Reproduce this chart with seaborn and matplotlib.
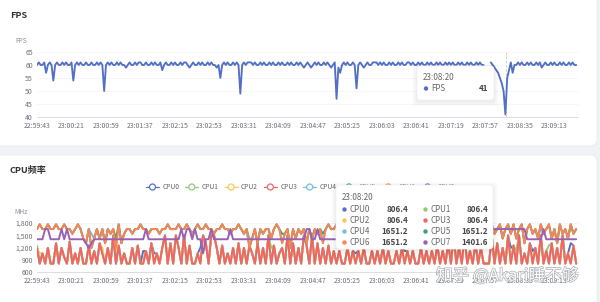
import numpy as np
import pandas as pd
import matplotlib
matplotlib.use("Agg")
import matplotlib.pyplot as plt
import seaborn as sns
from matplotlib.patches import FancyBboxPatch, Circle
import matplotlib.patheffects as pe

# ---------------- data ----------------
tick_labels = ["22:59:43", "23:00:21", "23:00:59", "23:01:37", "23:02:15", "23:02:53",
               "23:03:31", "23:04:09", "23:04:47", "23:05:25", "23:06:03", "23:06:41",
               "23:07:19", "23:07:57", "23:08:35", "23:09:13"]
tick_step_s = 38
fps_step_s = 2
cpu_step_s = 3

nan = float("nan")
fps_values = [
    60, 61, 60, 60, 61, 57, 60, 61, 60, 54, 60, 61, 60, 60, 61, 60, 61, 60, 60, 61,
    54, 60, 61, 60, 61, 60, 60, 61, 60, 60, 61, 60, 60, 61, 60, 61, 60, 50, 60, 61,
    60, 61, 60, 60, 61, 60, 61, 60, 60, 59, 60, 61, 60, 60, 61, 60, 61, 61, 60, 60,
    61, 60, 60, 61, 60, 61, 60, 60, 61, 58, 60, 61, 60, 60, 61, 60, 61, 60, 60, 61,
    60, 61, 61, 60, 59, 60, 61, 60, 60, 61, 60, 61, 60, 60, 61, 60, 61, 60, 60, 59,
    60, 55, 60, 61, 60, 61, 60, 60, 61, 60, 61, 60, 49, 60, 61, 60, 61, 61, 61, 60,
    61, 60, 60, 61, 60, 61, 60, 60, 61, 60, 61, 60, 60, 61, 60, 61, 60, 60, 61, 60,
    61, 60, 60, 61, 60, 61, 60, 59, 60, 61, 60, 59, 60, 61, 60, 61, 60, 60, 61, 60,
    61, 60, 59, 60, 61, 47, 59, 57, 60, 61, 60, 61, 60, 60, 61, 60, 51, 60, 61, 60,
    59, 60, 61, 60, 60, 61, 61, 61, 60, 61, 60, 61, 60, 60, 61, 60, 61, 60, 60, 61,
    60, 61, 60, 60, 61, 61, 60, 61, 60, 60, 61, 60, 61, 60, 60, 61, 60, 61, 60, 60,
    61, 60, 61, 60, 60, 61, 60, 61, 60, 61, 60, 60, 61, 60, 61, 60, 60, 61, 60, 61,
    60, 60, 61, 60, 61, 60, 60, nan, nan, nan, 61, 60, 59, 58, 57, 55, 53, 50, 41, 55,
    58, 61, 57, 60, 60, 61, 60, 61, 60, 60, 61, 60, 61, 60, 60, 61, 60, 61, 59, 60,
    61, 60, 60, 61, 60, 61, 60, 60, 61, 60, 61, 60, 60, 61, 60, 61, 60, 60,
]

little_cluster = [
    1190, 806, 1056, 806, 1190, 806, 806, 1305, 806, 1190,
    960, 806, 1344, 806, 1056, 806, 1190, 806, 806, 1248,
    806, 1114, 806, 1305, 1056, 806, 1190, 806, 1497, 806,
    1248, 806, 1056, 806, 806, 1190, 806, 1248, 806, 806,
    1114, 806, 1305, 806, 1056, 806, 1190, 1497, 806, 1305,
    806, 1497, 1190, 806, 1497, 806, 1248, 806, 806, 1056,
    806, 1497, 1305, 806, 1497, 1497, 1190, 806, 1248, 806,
    1056, 806, 1190, 806, 1305, 806, 1190, 806, 1248, 1056,
    806, 1305, 806, 1190, 806, 1497, 806, 1248, 806, 1056,
    1190, 806, 1497, 806, 1305, 806, 1190, 806, 1497, 1248,
    806, 1497, 806, 1305, 806, 1190, 806, 1248, 806, 1114,
    806, 1114, 806, 806, 1190, 806, 1114, 806, 1114, 806,
    1190, 806, 806, 1114, 806, 1114, 806, 1190, 806, 1114,
    806, 806, 1114, 806, 1190, 806, 1114, 806, 1114, 806,
    806, 1190, 806, 1114, 806, 1114, 806, 1248, 806, 1114,
    806, 1305, 806, 1497, 806, 1190, 806, 1497, 806, 1114,
    806, 1305, 806, 1190, 806, 806, 806, 1497, 806, 1305,
    806, 1190, 806, 1497, 806, 1248, 806, 1497, 806, 1056,
    806, 1305, 806, 1190, 806, 1497, 806, 1114, 806, 1305,
    806, 1190, 806, 1497, 806, 1056, 806, 1248, 806,
]

big_cluster = [
    1651, 1766, 1651, 1651, 1766, 1651, 1651, 1766, 1651, 1651,
    1766, 1651, 1651, 1536, 1651, 1766, 1651, 1420, 1305, 1651,
    1190, 1420, 1651, 1420, 1651, 1305, 1651, 1536, 1651, 1190,
    1766, 1305, 1536, 1651, 1651, 1536, 1651, 1651, 1766, 1651,
    1651, 1536, 1651, 1651, 1651, 1536, 1651, 1651, 1766, 1651,
    1651, 1651, 1766, 1651, 1651, 1766, 1651, 1536, 1651, 1766,
    1651, 1651, 1766, 1651, 1651, 1536, 1651, 1651, 1766, 1651,
    1651, 1536, 1651, 1651, 1766, 1651, 1536, 1651, 1190, 1420,
    1651, 1305, 1651, 1536, 1651, 1651, 1420, 1651, 1766, 1651,
    1305, 1536, 1651, 1190, 1651, 1420, 1651, 1536, 1651, 1305,
    1651, 1420, 1651, 1536, 1651, 1305, 1651, 1766, 1651, 1651,
    1766, 1651, 1651, 1536, 1651, 1651, 1766, 1651, 1651, 1651,
    1536, 1651, 1766, 1651, 1651, 1651, 1766, 1651, 1536, 1651,
    1651, 1766, 1651, 1651, 1651, 1536, 1651, 1766, 1651, 1651,
    1651, 1766, 1651, 1536, 1651, 1651, 1766, 1651, 1651, 1651,
    1536, 1651, 1766, 1651, 1651, 1420, 1651, 1766, 1651, 1536,
    1651, 1766, 1651, 1651, 1536, 1651, 1766, 1766, 1536, 1651,
    1766, 1420, 1651, 1766, 1536, 1766, 1420, 1651, 1766, 1305,
    1651, 1766, 1536, 1651, 1420, 1766, 1536, 1651, 1766, 1420,
    1651, 1305, 1766, 1536, 1651, 1420, 1766, 1536, 1651,
]

prime_cluster = [
    1402, 1402, 1402, 1651, 1651, 1402, 1402, 1402, 1402, 1651,
    1402, 1651, 1402, 1402, 1402, 1402, 1402, 1402, 1305, 1190,
    1305, 1402, 1402, 1402, 1402, 1402, 1402, 1402, 1402, 1402,
    1402, 1402, 1402, 1402, 1402, 1402, 1402, 1402, 1402, 1402,
    1651, 1402, 1402, 1402, 1402, 1402, 1402, 1402, 1402, 1402,
    1402, 1402, 1402, 1651, 1402, 1651, 1651, 1402, 1651, 1402,
    1402, 1056, 1402, 1402, 1651, 1402, 1402, 1402, 1402, 1402,
    1402, 1651, 1402, 1402, 1402, 1402, 1402, 1402, 1402, 1402,
    1402, 1402, 1402, 1402, 1402, 1402, 1402, 1402, 1402, 1402,
    1402, 1402, 1402, 1402, 1402, 1402, 1402, 1402, 1402, 1651,
    1651, 1402, 1402, 1651, 1402, 1402, 1402, 1402, 1402, 1402,
    1402, 1402, 1402, 1402, 1402, 1402, 1402, 1402, 1402, 1402,
    1402, 1402, 1402, 1402, 1402, 1402, 1402, 1402, 1402, 1402,
    1402, 1402, 1402, 1402, 1402, 1402, 1402, 1402, 1402, 1402,
    1402, 1402, 1402, 1402, 1402, 1402, 1402, 1402, 1402, 1402,
    1402, 1402, 1402, 1402, 1402, 1402, 1402, 1402, 1402, 1402,
    1402, 1402, 1402, 1402, 1402, 1402, 1402, 1651, 1651, 1651,
    1651, 1651, 1651, 1651, 1651, 1651, 1651, 1651, 1651, 1651,
    1402, 1402, 1402, 1402, 1402, 1402, 1651, 1402, 1402, 1402,
    1402, 1402, 1402, 1402, 1402, 1402, 1402, 1402, 1402,
]

# per-core samples that differ from their cluster
cpu0_diff = {39: 1114, 43: 1056, 60: 1190, 117: 1056, 135: 1114, 174: 1190, 182: 1114, 196: 1305}
cpu1_diff = {0: 1248, 86: 1190, 176: 1114, 188: 1248}
cpu2_diff = {1: 1056, 24: 1190, 29: 1114}
cpu4_diff = {20: 1536, 78: 1420}
cpu5_diff = {29: 1420, 90: 1536, 105: 1536}

cpu_names = ["CPU0", "CPU1", "CPU2", "CPU3", "CPU4", "CPU5", "CPU6", "CPU7"]
cpu_colors = ["#5470c6", "#91cc75", "#fac858", "#ee6666", "#73c0de", "#3ba272", "#fc8452", "#9a60b4"]
tooltip_time = "23:08:20"
fps_tooltip_value = "41"
cpu_tooltip_values = ["806.4", "806.4", "806.4", "806.4", "1651.2", "1651.2", "1651.2", "1401.6"]


def with_diff(base, diff):
    out = list(base)
    for k, v in diff.items():
        out[k] = v
    return out


cpu_series = {
    "CPU0": with_diff(little_cluster, cpu0_diff),
    "CPU1": with_diff(little_cluster, cpu1_diff),
    "CPU2": with_diff(little_cluster, cpu2_diff),
    "CPU3": list(little_cluster),
    "CPU4": with_diff(big_cluster, cpu4_diff),
    "CPU5": with_diff(big_cluster, cpu5_diff),
    "CPU6": list(big_cluster),
    "CPU7": list(prime_cluster),
}

# ---------------- tables ----------------
fps_arr = np.array(fps_values, dtype=float)
df_fps = pd.DataFrame({
    "t": np.arange(len(fps_arr)) * fps_step_s,
    "fps": fps_arr,
    "seg": np.cumsum(np.isnan(fps_arr)),
}).dropna()

rows = []
for name in cpu_names:
    vals = cpu_series[name]
    for i, v in enumerate(vals):
        rows.append((i * cpu_step_s, v, name))
df_cpu = pd.DataFrame(rows, columns=["t", "mhz", "cpu"])

# ---------------- figure ----------------
sns.set_theme(style="white")
plt.rcParams["font.family"] = ["Noto Sans CJK SC", "DejaVu Sans"]

W, H = 600, 302
fig = plt.figure(figsize=(6.0, 3.02), dpi=100)
fig.patch.set_facecolor("#f1f2f5")

bg = fig.add_axes([0, 0, 1, 1], zorder=0)
bg.set_xlim(0, W)
bg.set_ylim(H, 0)
bg.axis("off")
for y0, y1 in [(-8, 146), (155, 310)]:
    bg.add_patch(FancyBboxPatch((-8, y0), 605, y1 - y0,
                                boxstyle="round,pad=0,rounding_size=7",
                                fc="white", ec="#e9ebef", lw=0.6))

x_left, x_right = 37, 578
t_max = 596
tick_color = "#6e7079"


def style_axis(ax, ylim, yticks, ylabels):
    ax.set_xlim(0, t_max)
    ax.set_ylim(*ylim)
    ax.set_xticks(np.arange(len(tick_labels)) * tick_step_s)
    ax.set_xticklabels(tick_labels)
    ax.set_yticks(yticks)
    ax.set_yticklabels(ylabels)
    ax.tick_params(axis="x", labelsize=5, colors=tick_color, length=2, width=0.5, pad=1.5)
    ax.tick_params(axis="x", color="#d5d9e0")
    ax.tick_params(axis="y", labelsize=5, colors=tick_color, length=0, pad=3)
    for s in ["top", "right", "left"]:
        ax.spines[s].set_visible(False)
    ax.spines["bottom"].set_color("#d5d9e0")
    ax.spines["bottom"].set_linewidth(0.6)
    ax.grid(axis="y", color="#f2f3f5", lw=0.5)
    ax.set_xlabel("")
    ax.set_ylabel("")
    ax.patch.set_alpha(0)


ax1 = fig.add_axes([x_left / W, 1 - 117 / H, (x_right - x_left) / W, (117 - 52) / H], zorder=2)
sns.lineplot(data=df_fps, x="t", y="fps", units="seg", estimator=None, sort=False,
             color="#5470c6", linewidth=1.35, ax=ax1, legend=False)
ax1.axvline(517, color="#c4c7cf", lw=0.6, ls=(0, (3, 2)), zorder=0)
style_axis(ax1, (40, 65), [40, 45, 50, 55, 60, 65], ["40", "45", "50", "55", "60", "65"])

ax2 = fig.add_axes([x_left / W, 1 - 272 / H, (x_right - x_left) / W, (272 - 223) / H], zorder=2)
sns.lineplot(data=df_cpu, x="t", y="mhz", hue="cpu", hue_order=cpu_names,
             palette=dict(zip(cpu_names, cpu_colors)), estimator=None, sort=False,
             linewidth=1.4, ax=ax2, legend=False)
style_axis(ax2, (600, 1800), [600, 900, 1200, 1500, 1800],
           ["600", "900", "1,200", "1,500", "1,800"])

# ---------------- foreground (texts, legend, tooltips) ----------------
fg = fig.add_axes([0, 0, 1, 1], zorder=5)
fg.set_xlim(0, W)
fg.set_ylim(H, 0)
fg.axis("off")
fg.patch.set_alpha(0)

fg.text(10, 15, "FPS", fontsize=6.5, weight="bold", color="#333333", va="center", ha="left")
fg.text(10, 171, "CPU频率", fontsize=6.5, weight="bold", color="#333333", va="center", ha="left")
fg.text(21, 41, "FPS", fontsize=4.8, color="#8a8e99", va="center", ha="center")
fg.text(21, 212, "MHz", fontsize=4.8, color="#8a8e99", va="center", ha="center")

# legend
for k, (name, col) in enumerate(zip(cpu_names, cpu_colors)):
    x0 = 146 + 39.3 * k
    fg.plot([x0, x0 + 13], [187, 187], color=col, lw=0.9, zorder=3)
    fg.add_patch(Circle((x0 + 6.5, 187), 3.0, fc="white", ec=col, lw=0.9, zorder=4))
    fg.text(x0 + 16.5, 187, name, fontsize=4.8, color="#666666", va="center", ha="left", zorder=4)


def tooltip(x0, y0, x1, y1):
    for i, a in enumerate([0.025, 0.02, 0.016, 0.012]):
        p = 1.0 + i * 1.3
        fg.add_patch(FancyBboxPatch((x0 - p, y0 - p + 1.5), x1 - x0 + 2 * p, y1 - y0 + 2 * p,
                                    boxstyle="round,pad=0,rounding_size=4",
                                    fc="#000000", ec="none", alpha=a, zorder=6))
    fg.add_patch(FancyBboxPatch((x0, y0), x1 - x0, y1 - y0,
                                boxstyle="round,pad=0,rounding_size=4",
                                fc="white", ec="#f2f2f2", lw=0.5, zorder=7))


# FPS tooltip
tooltip(417, 66, 494, 100)
fg.text(423, 77, tooltip_time, fontsize=5.8, color="#666666", va="center", ha="left", zorder=8)
fg.add_patch(Circle((426, 88.5), 2.2, fc="#5470c6", ec="none", zorder=8))
fg.text(431, 88.5, "FPS", fontsize=5.8, color="#666666", va="center", ha="left", zorder=8)
fg.text(488, 88.5, fps_tooltip_value, fontsize=5.8, weight="bold", color="#464646",
        va="center", ha="right", zorder=8)

# CPU tooltip
tooltip(336, 185, 493, 249)
fg.text(342, 198, tooltip_time, fontsize=5.8, color="#666666", va="center", ha="left", zorder=8)
row_y = [209.5, 220.5, 231.5, 242.5]
for k, (name, col, val) in enumerate(zip(cpu_names, cpu_colors, cpu_tooltip_values)):
    r, c = divmod(k, 2)
    xd = 344.5 if c == 0 else 425.5
    xv = 408 if c == 0 else 488
    y = row_y[r]
    fg.add_patch(Circle((xd, y), 2.2, fc=col, ec="none", zorder=8))
    fg.text(xd + 5, y, name, fontsize=5.8, color="#666666", va="center", ha="left", zorder=8)
    fg.text(xv, y, val, fontsize=5.8, weight="bold", color="#464646", va="center", ha="right", zorder=8)

# watermark
fg.text(507, 276, "知乎 @Akari睡不够", fontsize=12, color="white", alpha=0.95,
        va="center", ha="center", zorder=9,
        path_effects=[pe.withStroke(linewidth=1.0, foreground="#a9abb0")])

fig.savefig("out.png", dpi=100, facecolor=fig.get_facecolor())
